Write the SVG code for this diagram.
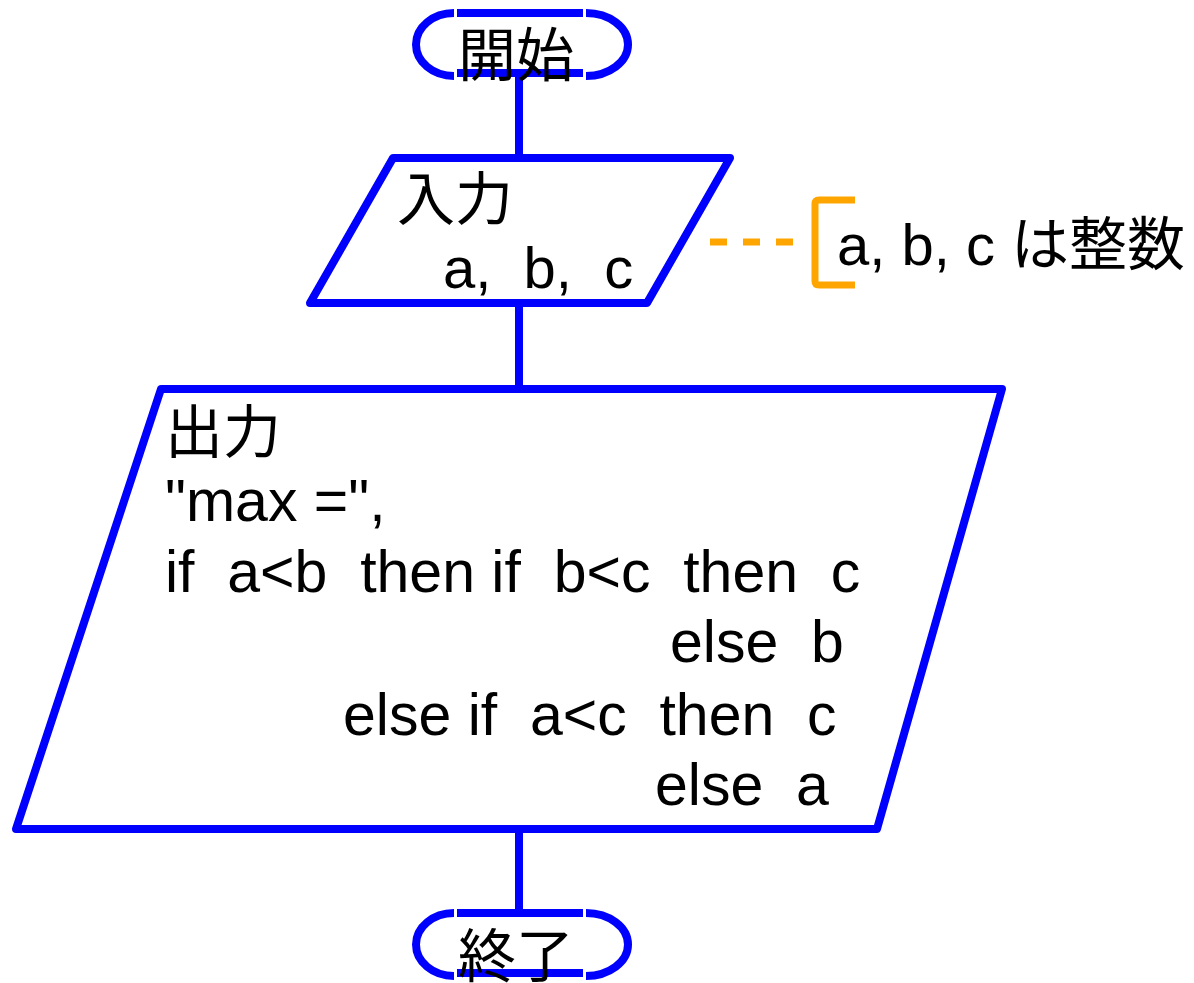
<svg xmlns="http://www.w3.org/2000/svg" width="1194" height="983" viewBox="0 0 1194 983">
<style>
.s{fill:none;stroke:#0000ff;stroke-width:8;stroke-linejoin:round}
.t{font-family:"Liberation Sans","Noto Sans CJK JP",sans-serif;font-size:58px;fill:#000}
.b{font-size:59px}
.o{fill:none;stroke:#ffa500;stroke-width:7}
</style>
<rect width="1194" height="983" fill="#fff"/>
<g id="connectors">
<path class="s" d="M519,76 V158 M519,303 V389 M519,829 V913"/>
<path class="o" d="M710,242 H793" stroke-dasharray="17,16"/>
</g>
<g id="start">
<path class="s" d="M457,13 H583 M457,73 H583"/>
<path class="s" d="M454,13 A38,31.5 0 0 0 454,76 M586,13 A42,31.5 0 0 1 586,76"/>
<text class="t" x="516" y="76" text-anchor="middle">開始</text>
</g>
<g id="input">
<path class="s" d="M393,158 H730 L647,303 H310 Z"/>
<text class="t" x="397" y="220">入力</text>
<text class="t" x="443" y="288" xml:space="preserve">a,  b,  c</text>
</g>
<g id="note">
<path class="o" d="M855,200 H819 Q815,200 815,204 V281 Q815,285 819,285 H855" stroke-width="8"/>
<text class="t" x="837" y="265" xml:space="preserve">a, b, c は整数</text>
</g>
<g id="output">
<path class="s" d="M161,389 H1002 L877,829 H16 Z"/>
<text class="t" x="165" y="453">出力</text>
<text class="t b" x="165" y="521">"max =",</text>
<text class="t b" x="165" y="592" xml:space="preserve">if  a&lt;b  then if  b&lt;c  then  c</text>
<text class="t b" x="670" y="662" xml:space="preserve">else  b</text>
<text class="t b" x="343" y="735" xml:space="preserve">else if  a&lt;c  then  c</text>
<text class="t b" x="655" y="805" xml:space="preserve">else  a</text>
</g>
<g id="end">
<path class="s" d="M457,913 H583 M457,973 H583"/>
<path class="s" d="M454,913 A38,31.5 0 0 0 454,976 M586,913 A42,31.5 0 0 1 586,976"/>
<text class="t" x="516" y="977" text-anchor="middle">終了</text>
</g>
</svg>
